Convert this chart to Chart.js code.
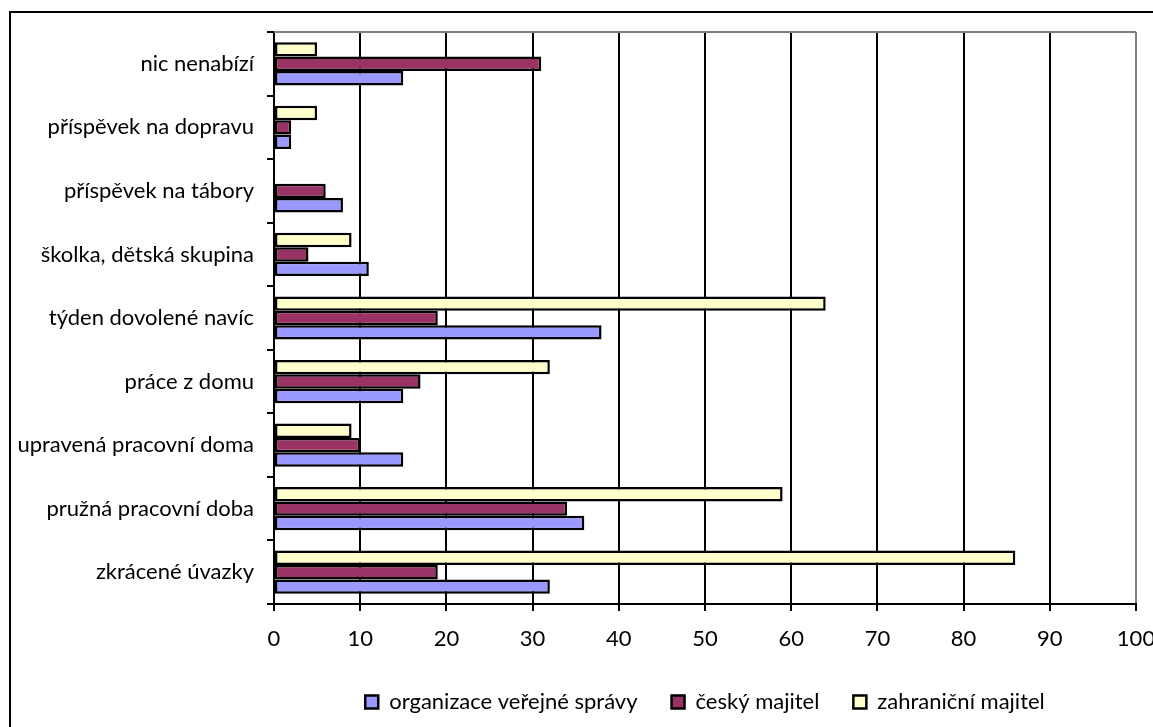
<!DOCTYPE html>
<html lang="cs">
<head>
<meta charset="UTF-8">
<title>Benefity podle typu zaměstnavatele</title>
<script src="https://cdn.jsdelivr.net/npm/chart.js"></script>
<style>
  body { margin: 0; background: #fff; overflow: hidden; }
  #frame {
    position: absolute; left: 9px; top: 11px;
    width: 1200px; height: 800px;
    border: 2px solid #000; pointer-events: none;
  }
</style>
</head>
<body>
<canvas id="chart" width="1153" height="727"></canvas>
<div id="frame"></div>
<script>
// categories listed top to bottom
const categories = [
  'nic nenabízí',
  'příspěvek na dopravu',
  'příspěvek na tábory',
  'školka, dětská skupina',
  'týden dovolené navíc',
  'práce z domu',
  'upravená pracovní doma',
  'pružná pracovní doba',
  'zkrácené úvazky'
];
const seriesNames = ['organizace veřejné správy', 'český majitel', 'zahraniční majitel'];
const verejnaSprava = [15, 2, 8, 11, 38, 15, 15, 36, 32];
const ceskyMajitel = [31, 2, 6, 4, 19, 17, 10, 34, 19];
const zahranicniMajitel = [5, 5, 0, 9, 64, 32, 9, 59, 86];
const xMin = 0, xMax = 100, xStep = 10;

Chart.defaults.font.family = 'Lato, "Open Sans", sans-serif';
Chart.defaults.font.size = 22;
Chart.defaults.color = '#000';

// gray line along the top of the plot area
const plotTop = {
  id: 'plotTop',
  beforeDatasetsDraw(chart) {
    const { ctx, chartArea: a } = chart;
    ctx.save();
    ctx.strokeStyle = '#808080';
    ctx.lineWidth = 2;
    ctx.beginPath();
    ctx.moveTo(a.left, a.top);
    ctx.lineTo(a.right, a.top);
    ctx.stroke();
    ctx.restore();
  }
};

const bar = (label, data, color) => ({
  label, data,
  backgroundColor: color,
  borderColor: '#000',
  borderWidth: 2.5,
  borderSkipped: false,
  categoryPercentage: 0.68,
  barPercentage: 1.0
});

new Chart(document.getElementById('chart'), {
  type: 'bar',
  data: {
    labels: categories,
    // first dataset sits at the top of each group
    datasets: [
      bar(seriesNames[2], zahranicniMajitel, '#FFFFCC'),
      bar(seriesNames[1], ceskyMajitel, '#993366'),
      bar(seriesNames[0], verejnaSprava, '#9999FF')
    ]
  },
  options: {
    indexAxis: 'y',
    responsive: false,
    animation: false,
    layout: { padding: { left: 0, top: 32, right: 0, bottom: 4 } },
    scales: {
      x: {
        min: xMin, max: xMax,
        ticks: { stepSize: xStep, padding: 15 },
        grid: {
          color: ctx => (ctx.tick && ctx.tick.value === xMax ? '#808080' : '#000'),
          lineWidth: 2,
          tickLength: 7,
          tickColor: '#000'
        },
        border: { color: '#000', width: 2 },
        afterFit: s => { s.height = 53; s.paddingRight = 17; s.paddingLeft = 0; }
      },
      y: {
        ticks: { padding: 13 },
        grid: { drawOnChartArea: false, color: '#000', lineWidth: 2, tickLength: 7 },
        border: { color: '#000', width: 2 },
        afterFit: s => { s.width = 274; }
      }
    },
    plugins: {
      tooltip: { enabled: false },
      legend: {
        position: 'bottom',
        fullSize: false,
        reverse: true,
        labels: { boxWidth: 13, boxHeight: 13, padding: 34 }
      }
    }
  },
  plugins: [plotTop]
});
</script>
</body>
</html>
